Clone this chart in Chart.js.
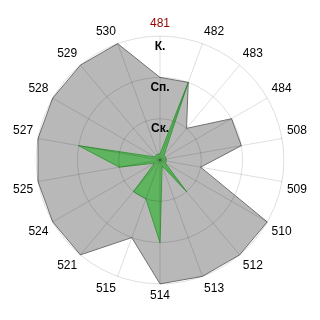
<!DOCTYPE html>
<html>
<head>
<meta charset="utf-8">
<script src="https://cdn.jsdelivr.net/npm/chart.js@4/dist/chart.umd.min.js"></script>
<style>
  html, body { margin: 0; padding: 0; background: #ffffff; }
  #wrap { width: 320px; height: 320px; }
</style>
</head>
<body>
<div id="wrap"><canvas id="c" width="320" height="320"></canvas></div>
<script>
const categories = ['481','482','483','484','508','509','510','512','513','514','515','521','524','525','527','528','529','530'];
const greySeries = [2,2,1,2,2,1,3,3,3,3,2,3,3,3,3,3,3,3];
const greenSeries = [0.15,2,0.15,0.15,0.15,0.15,0.15,1,0.15,2,1,1,0.15,1,2,0.15,0.15,0.15];
const tickLabels = {1: 'Ск.', 2: 'Сп.', 3: 'К.'};

new Chart(document.getElementById('c'), {
  type: 'radar',
  data: {
    labels: categories,
    datasets: [
      {
        data: greenSeries,
        backgroundColor: '#5fb45f',
        borderColor: '#3f9a3f',
        borderWidth: 1,
        pointRadius: 0,
        fill: true
      },
      {
        data: greySeries,
        backgroundColor: '#b8b8b8',
        borderColor: '#707070',
        borderWidth: 1,
        pointRadius: 0,
        fill: true
      }
    ]
  },
  options: {
    responsive: false,
    animation: false,
    layout: { padding: 13 },
    plugins: { legend: { display: false }, tooltip: { enabled: false } },
    scales: {
      r: {
        min: 0,
        max: 3,
        ticks: {
          z: 2,
          stepSize: 1,
          color: '#000000',
          showLabelBackdrop: false,
          backdropPadding: 0,
          font: { family: 'Arial, "Liberation Sans"', size: 12, weight: 'bold', lineHeight: 0.85 },
          callback: (v) => tickLabels[v] ? ['', tickLabels[v]] : ''
        },
        grid: { z: 1, circular: true, color: 'rgba(0,0,0,0.13)' },
        angleLines: { color: 'rgba(0,0,0,0.13)' },
        pointLabels: {
          padding: -1,
          font: { family: 'Arial, "Liberation Sans"', size: 12 },
          color: (ctx) => ctx.index === 0 ? '#990000' : '#000000'
        }
      }
    }
  }
});
</script>
</body>
</html>
